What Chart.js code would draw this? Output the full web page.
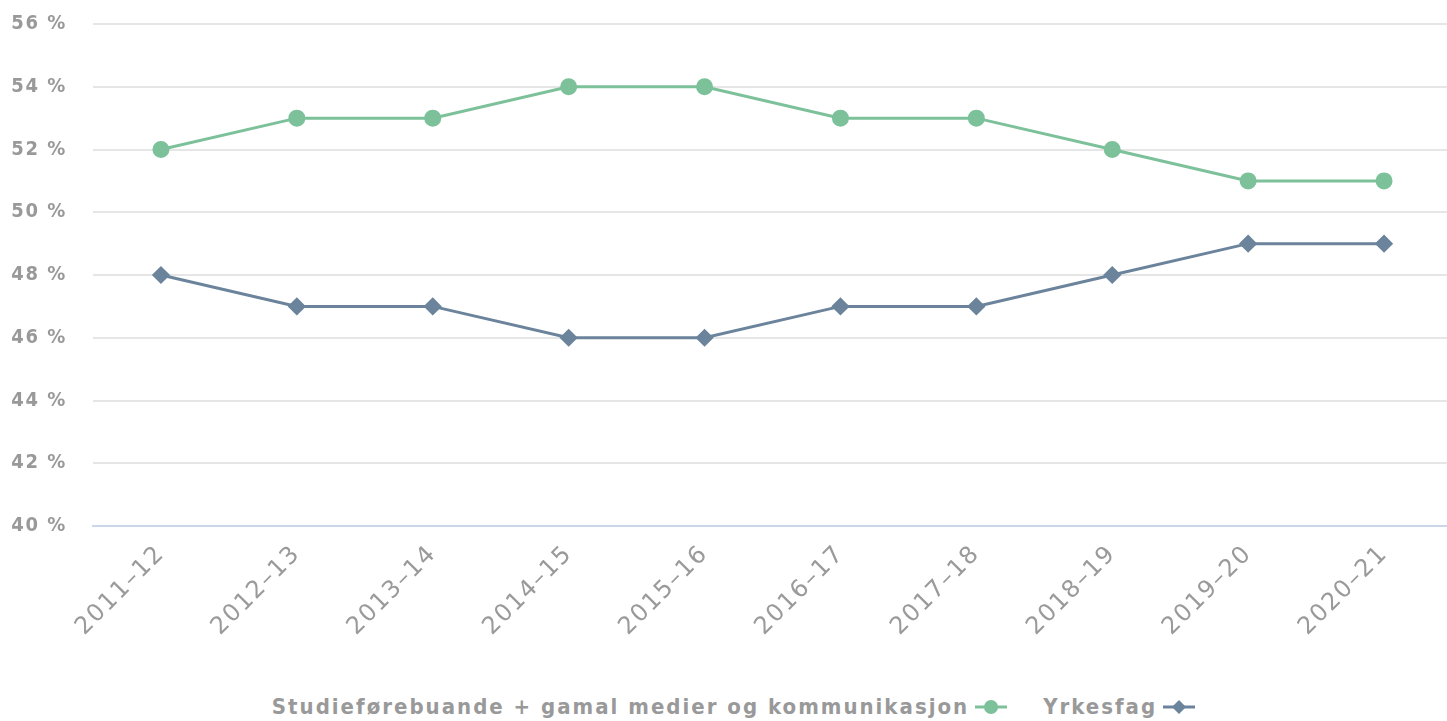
<!DOCTYPE html>
<html>
<head>
<meta charset="utf-8">
<script src="https://cdn.jsdelivr.net/npm/chart.js@4.4.1/dist/chart.umd.min.js"></script>
<style>
  html, body { margin: 0; padding: 0; background: #fff; overflow: hidden; }
  #wrap { position: absolute; left: 0; top: -14px; width: 1452px; height: 694px; }
  #legend { position: absolute; left: 10px; top: 694px; width: 1447px; text-align: center; line-height: 26px;
    font-family: "DejaVu Sans Condensed", "DejaVu Sans", sans-serif; font-weight: bold; font-size: 22px; color: #999; letter-spacing: 2px; white-space: nowrap; }
  .item { display: inline-flex; align-items: center; margin: 0 18px; }
  .item svg { margin-left: 6px; }
</style>
</head>
<body>
<div id="wrap"><canvas id="c" width="1452" height="694"></canvas></div>
<div id="legend"></div>
<script>
const categories = ["2011–12","2012–13","2013–14","2014–15","2015–16","2016–17","2017–18","2018–19","2019–20","2020–21"];
const studie = [52,53,53,54,54,53,53,52,51,51];
const yrkesfag = [48,47,47,46,46,47,47,48,49,49];
const seriesNames = ["Studieførebuande + gamal medier og kommunikasjon", "Yrkesfag"];
const seriesColors = ["#7cc19a", "#6b849c"];

const FONT = "'DejaVu Sans Condensed', 'DejaVu Sans', sans-serif";
const spacing = {
  id: 'spacing',
  beforeUpdate(chart) { chart.ctx.letterSpacing = '1.6px'; },
  beforeLayout(chart) { chart.ctx.letterSpacing = '1.6px'; },
  beforeDraw(chart) { chart.ctx.letterSpacing = '1.6px'; }
};

new Chart(document.getElementById('c'), {
  type: 'line',
  data: {
    labels: categories,
    datasets: [
      { label: seriesNames[0], data: studie, borderColor: seriesColors[0], backgroundColor: seriesColors[0],
        borderWidth: 3, pointStyle: 'circle', pointRadius: 7, pointHoverRadius: 7, tension: 0 },
      { label: seriesNames[1], data: yrkesfag, borderColor: seriesColors[1], backgroundColor: seriesColors[1],
        borderWidth: 3, pointStyle: 'rectRot', pointRadius: 7, pointHoverRadius: 7, tension: 0 }
    ]
  },
  options: {
    responsive: false,
    animation: false,
    layout: { autoPadding: false, padding: { top: 0, left: 0, right: 0, bottom: 0 } },
    plugins: { legend: { display: false }, tooltip: { enabled: false } },
    scales: {
      x: {
        offset: true,
        grid: { display: false, drawTicks: false },
        border: { color: '#ccd6eb', width: 2 },
        ticks: { color: '#9a9a9a', font: { family: "'DejaVu Sans', sans-serif", size: 24 }, maxRotation: 45, minRotation: 45, padding: 14, autoSkip: false },
        afterFit(scale) { scale.height = 154; scale.paddingRight = 0; scale.paddingLeft = 0; }
      },
      y: {
        min: 40, max: 56,
        grid: { color: '#e6e6e6', lineWidth: 2, drawTicks: false },
        border: { display: false },
        ticks: { stepSize: 2, color: '#999', font: { family: FONT, size: 20, weight: 'bold' }, padding: 26,
          callback: v => v + ' %' },
        afterFit(scale) { scale.width = 93; }
      }
    }
  },
  plugins: [spacing]
});

const legend = document.getElementById('legend');
seriesNames.forEach((n, i) => {
  const span = document.createElement('span');
  span.className = 'item';
  const marker = i === 0
    ? `<circle cx="16" cy="10" r="7" fill="${seriesColors[i]}"/>`
    : `<polygon points="16,3 23,10 16,17 9,10" fill="${seriesColors[i]}"/>`;
  span.innerHTML = `<span>${n}</span><svg width="32" height="20"><line x1="0" y1="10" x2="32" y2="10" stroke="${seriesColors[i]}" stroke-width="3"/>${marker}</svg>`;
  legend.appendChild(span);
});
</script>
</body>
</html>
